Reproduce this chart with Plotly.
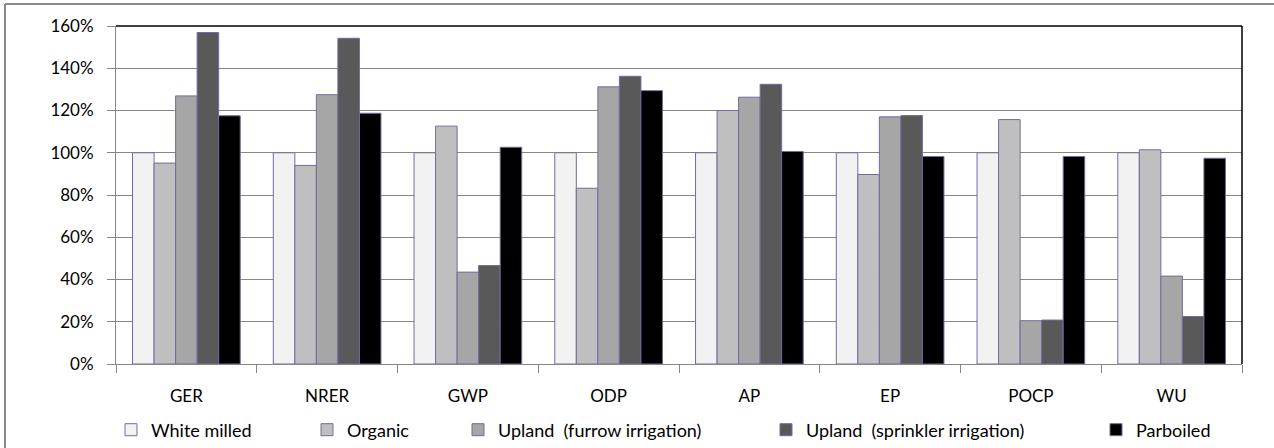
import plotly.graph_objects as go

categories = ["GER", "NRER", "GWP", "ODP", "AP", "EP", "POCP", "WU"]
series_names = ["White milled", "Organic", "Upland\u00a0 (furrow irrigation)",
                "Upland\u00a0 (sprinkler irrigation)", "Parboiled"]
white_milled = [100, 100, 100, 100, 100, 100, 100, 100]
organic = [95.1, 94.0, 112.6, 83.2, 120.0, 89.7, 115.7, 101.4]
upland_furrow = [126.9, 127.5, 43.5, 131.2, 126.3, 117.0, 20.5, 41.6]
upland_sprinkler = [156.9, 154.2, 46.6, 136.2, 132.4, 117.6, 20.8, 22.5]
parboiled = [117.5, 118.7, 102.6, 129.4, 100.6, 98.2, 98.2, 97.4]
series_values = [white_milled, organic, upland_furrow, upland_sprinkler, parboiled]
colors = ["#F2F2F2", "#BFBFBF", "#A6A6A6", "#595959", "#000000"]

W, H = 1274, 448
L, R, T, B = 116, 32, 26, 84
pw, ph = W - L - R, H - T - B

legend_box_px = [126, 322, 473, 781, 1111]

FONT = "Lato"
fig = go.Figure()
layout_legends = {}
for i, (name, vals, col) in enumerate(zip(series_names, series_values, colors)):
    lname = "legend" if i == 0 else f"legend{i+1}"
    fig.add_trace(go.Bar(
        x=categories, y=[v / 100 for v in vals], name=name,
        marker=dict(color=col, line=dict(color="#6E6E9E", width=1)),
        legend=lname,
    ))
    layout_legends[lname] = dict(
        x=(legend_box_px[i] - 15 - L) / pw, xanchor="left",
        y=(T + ph - 430) / ph, yanchor="middle",
        orientation="h", bgcolor="rgba(0,0,0,0)",
        font=dict(family=FONT, size=18, color="#000000"),
    )

fig.update_layout(
    width=W, height=H,
    margin=dict(l=L, r=R, t=T, b=B, autoexpand=False),
    paper_bgcolor="white", plot_bgcolor="white",
    barmode="group", bargap=0.235, bargroupgap=0,
    showlegend=True,
    **layout_legends,
)
fig.update_xaxes(
    range=[-0.5, 7.5], showline=True, linecolor="#868686", linewidth=1,
    ticks="outside", tickson="boundaries", ticklen=8, tickcolor="#868686",
    showgrid=False, ticklabelstandoff=17,
    tickfont=dict(family=FONT, size=17, color="#000000"),
)
fig.update_yaxes(
    range=[0, 1.6], dtick=0.2, tickformat=".0%",
    showline=True, linecolor="#868686", linewidth=1,
    ticks="outside", ticklen=8, tickcolor="#868686",
    showgrid=True, gridcolor="#868686", gridwidth=1,
    zeroline=False, ticklabelstandoff=10,
    tickfont=dict(family=FONT, size=17, color="#000000"),
)
# plot-area top and right border (black)
fig.add_shape(type="line", xref="paper", yref="paper", x0=0, x1=1, y0=1, y1=1,
              line=dict(color="#000000", width=1.5))
fig.add_shape(type="line", xref="paper", yref="paper", x0=1, x1=1, y0=0, y1=1,
              line=dict(color="#000000", width=1.5))
# outer chart frame (left and top edges visible)
fx0 = (5 - L) / pw
fy_top = (T + ph - 4) / ph
fig.add_shape(type="line", xref="paper", yref="paper", x0=fx0, x1=fx0,
              y0=-(B + 5) / ph, y1=fy_top, line=dict(color="#888888", width=2))
fig.add_shape(type="line", xref="paper", yref="paper", x0=fx0, x1=(W + 5 - L) / pw,
              y0=fy_top, y1=fy_top, line=dict(color="#888888", width=2))

fig.write_html("out.html")
